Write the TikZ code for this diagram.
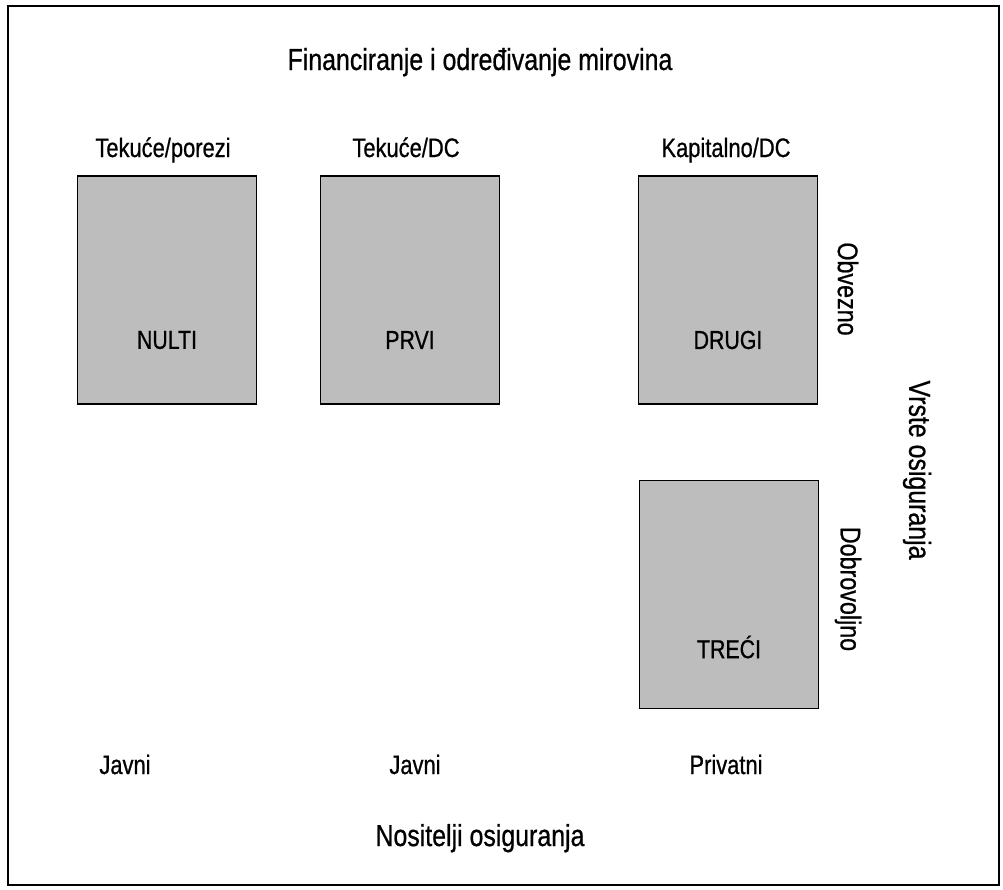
\documentclass[tikz,border=0pt]{standalone}
\usepackage{fontspec}
\setmainfont{Liberation Sans}[FakeStretch=0.82, FakeBold=0.7]
\usepackage{tikz}
\usetikzlibrary{positioning}

\begin{document}
\begin{tikzpicture}[
    x=0.025cm, y=-0.025cm,
    tier/.style={draw, line width=1.3pt, fill=black!26, minimum width=179*0.025cm, minimum height=228*0.025cm, inner sep=0pt},
    tierlbl/.style={font=\fontsize{18.5}{22}\selectfont},
    head/.style={font=\fontsize{21.6}{25}\selectfont, anchor=base},
    colhead/.style={font=\fontsize{19}{22}\selectfont, anchor=base},
    side/.style={font=\fontsize{20.2}{24}\selectfont, rotate=-90}
]
    \useasboundingbox (0,0) rectangle (1003,889);
    \draw[line width=1.4pt] (8,6) rectangle (999,885);

    \node[head] (title) at (480,70) {Financiranje i određivanje mirovina};

    \node[colhead] (tekpor) at (163,157) {Tekuće/porezi};
    \node[colhead] (tekdc) at (406,157) {Tekuće/DC};
    \node[colhead] (kapdc) at (726,157) {Kapitalno/DC};

    % the four pillars
    \node[tier] (nulti) at (167,290) {};
    \node[tier] (prvi) at (410,290) {};
    \node[tier] (drugi) at (728,290) {};
    \node[tier] (treci) at (729,594.5) {};

    \node[tierlbl] (nultilbl) at (167,340) {NULTI};
    \node[tierlbl] (prvilbl) at (410,340) {PRVI};
    \node[tierlbl] (drugilbl) at (728,340) {DRUGI};
    \node[tierlbl] (trecilbl) at (729,647) {TREĆI};

    \node[side] (obv) at (848,289) {Obvezno};
    \node[side] (dobr) at (848,589) {Dobrovoljno};
    \node[side, font=\fontsize{21.6}{25}\selectfont] (vrste) at (917,470) {Vrste osiguranja};

    \node[colhead] (javni1) at (125,774) {Javni};
    \node[colhead] (javni2) at (415,774) {Javni};
    \node[colhead] (priv) at (726,774) {Privatni};

    \node[head] (nosit) at (480,846) {Nositelji osiguranja};
\end{tikzpicture}
\end{document}
